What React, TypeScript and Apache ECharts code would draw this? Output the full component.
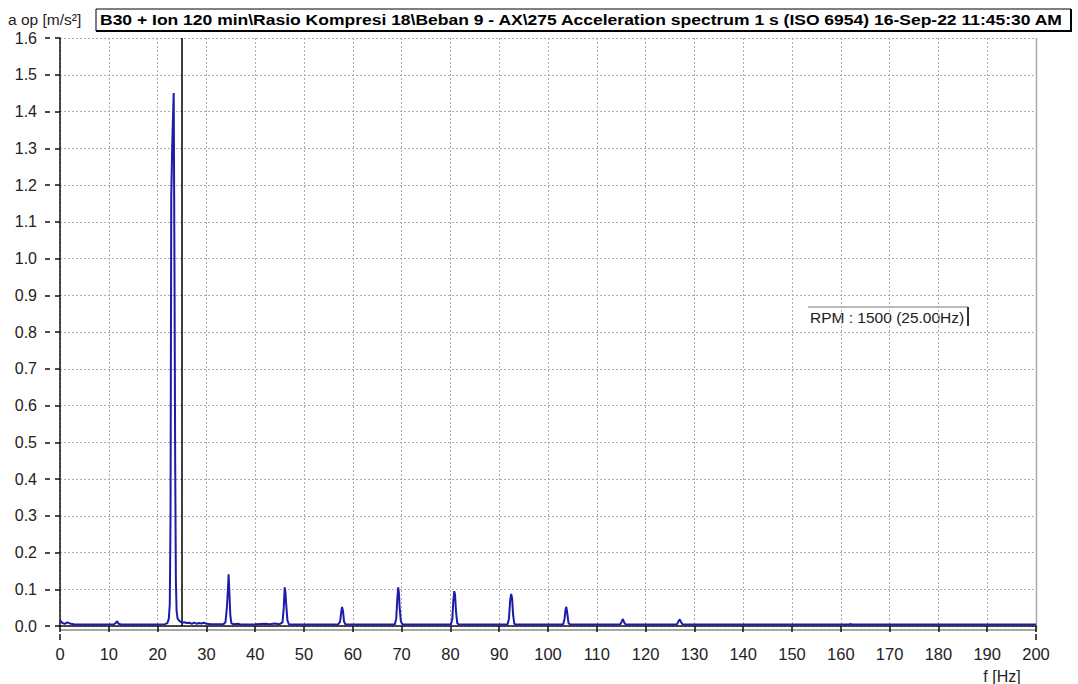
import React, { useEffect, useRef } from "react";
import * as echarts from "echarts";

// Frequency (Hz) and acceleration amplitude (m/s²)
const freqHz: number[] = [
  0, 0.5, 1.0, 1.5, 2.0, 3.0, 5, 8, 11, 11.4, 11.7, 12.0, 12.5, 16, 20, 21.5,
  22.0, 22.3, 22.5, 22.65, 22.8, 23.0, 23.3, 23.45, 23.6, 23.75, 23.9, 24.1, 24.5,
  25.0, 25.5, 26.0, 26.5, 27.0, 27.5, 28.0, 28.5, 29.0, 29.5, 30.0, 31, 32, 33.5,
  33.9, 34.2, 34.4, 34.55, 34.7, 34.9, 35.1, 35.5, 36.5, 37, 40, 42, 43, 44, 45,
  45.6, 45.85, 46.05, 46.2, 46.35, 46.6, 46.9, 48, 57, 57.4, 57.6, 57.8, 58.0,
  58.2, 58.5, 68.6, 68.9, 69.1, 69.3, 69.45, 69.6, 69.85, 70.2, 80.1, 80.4, 80.6,
  80.8, 80.95, 81.15, 81.4, 81.7, 91.7, 92.0, 92.25, 92.45, 92.65, 92.85, 93.1,
  93.4, 103.1, 103.4, 103.6, 103.75, 103.95, 104.2, 104.5, 114.8, 115.1, 115.35,
  115.6, 115.9, 126.4, 126.7, 127.0, 127.3, 127.6, 161.8, 162.0, 162.2, 200,
];
const accel: number[] = [
  0.016, 0.008, 0.006, 0.01, 0.007, 0.004, 0.004, 0.004, 0.004, 0.008, 0.013, 0.006, 0.004, 0.004, 0.004, 0.005,
  0.008, 0.02, 0.06, 0.3, 1.17, 1.31, 1.45, 1.0, 0.45, 0.12, 0.04, 0.02, 0.013,
  0.009, 0.01, 0.008, 0.009, 0.006, 0.009, 0.006, 0.008, 0.007, 0.009, 0.006, 0.005, 0.005, 0.005,
  0.01, 0.05, 0.095, 0.141, 0.095, 0.03, 0.008, 0.005, 0.006, 0.004, 0.005, 0.006, 0.005, 0.007, 0.005,
  0.01, 0.05, 0.105, 0.09, 0.06, 0.015, 0.005, 0.004, 0.004, 0.012, 0.035, 0.052, 0.04,
  0.012, 0.004, 0.004, 0.02, 0.07, 0.105, 0.09, 0.05, 0.012, 0.004, 0.004, 0.02, 0.07,
  0.095, 0.085, 0.04, 0.008, 0.004, 0.004, 0.02, 0.07, 0.087, 0.075, 0.03, 0.006,
  0.004, 0.004, 0.02, 0.045, 0.052, 0.035, 0.008, 0.004, 0.004, 0.012, 0.019,
  0.01, 0.004, 0.004, 0.012, 0.018, 0.01, 0.004, 0.004, 0.006, 0.004, 0.004,
];
const cursorHz = 25;
const yTickLabels: string[] = ["0.0","0.1","0.2","0.3","0.4","0.5","0.6","0.7","0.8","0.9","1.0","1.1","1.2","1.3","1.4","1.5","1.6"];

const titleText =
  "B30 + Ion 120 min\\Rasio Kompresi 18\\Beban 9 - AX\\275 Acceleration spectrum 1 s (ISO 6954) 16-Sep-22 11:45:30 AM";
const yName = "a op [m/s²]";
const xName = "f [Hz]";
const rpmText = "RPM : 1500 (25.00Hz)";

const FONT = "'Liberation Sans', Arial, sans-serif";

export default function App() {
  const ref = useRef<HTMLDivElement>(null);
  useEffect(() => {
    document.body.style.margin = "0";
    const chart = echarts.init(ref.current!, undefined, { renderer: "svg" });
    const data = freqHz.map((f, i) => [f, accel[i]]);
    const gridDash = { color: "#ababab", width: 1, type: [2, 2] as number[] };
    chart.setOption({
      animation: false,
      backgroundColor: "#ffffff",
      textStyle: { fontFamily: FONT },
      grid: { left: 60, right: 42, top: 38, bottom: 58, containLabel: false },
      xAxis: {
        type: "value",
        min: 0,
        max: 200,
        interval: 10,
        position: "bottom",
        offset: 14,
        axisLine: { show: true, lineStyle: { color: "#111", width: 1.5 } },
        axisTick: { show: true, length: 6, lineStyle: { color: "#111", width: 1.5 } },
        axisLabel: { fontSize: 16.5, color: "#222", margin: 5, fontFamily: FONT },
        splitLine: { show: true, lineStyle: gridDash },
      },
      yAxis: [
        {
          type: "value",
          min: 0,
          max: 1.6,
          interval: 0.1,
          offset: 15,
          axisLine: { show: true, lineStyle: { color: "#111", width: 1.5 } },
          axisTick: { show: true, length: 5, lineStyle: { color: "#111", width: 1.5 } },
          axisLabel: {
            fontSize: 16,
            color: "#222",
            margin: 8,
            fontFamily: FONT,
            formatter: (v: number) => yTickLabels[Math.round(v * 10)] ?? v.toFixed(1),
          },
          splitLine: { show: true, lineStyle: gridDash },
        },
        {
          type: "value",
          min: 0,
          max: 1.6,
          interval: 0.1,
          offset: 15,
          position: "left",
          axisLine: { show: false },
          axisTick: { show: true, inside: true, length: 5, lineStyle: { color: "#111", width: 1.5 } },
          axisLabel: { show: false },
          splitLine: { show: false },
        },
      ],
      series: [
        {
          type: "line",
          data,
          showSymbol: false,
          symbol: "none",
          lineStyle: { color: "#1c1ca8", width: 2 },
          z: 5,
          markLine: {
            silent: true,
            symbol: "none",
            label: { show: false },
            lineStyle: { color: "#000", width: 1.5, type: "solid" },
            data: [{ xAxis: cursorHz }],
          },
        },
      ],
      graphic: [
        { type: "text", x: 8, y: 19, style: { text: yName, font: `15.5px ${FONT}`, fill: "#222", verticalAlign: "middle" } },
        { type: "rect", shape: { x: 96, y: 9, width: 975, height: 22 }, style: { fill: "#fff", stroke: "#000", lineWidth: 1 } },
        {
          type: "text",
          x: 100,
          y: 20,
          scaleX: 1.13,
          style: { text: titleText, font: `bold 15.5px ${FONT}`, fill: "#000", verticalAlign: "middle" },
        },
        { type: "line", shape: { x1: 1071, y1: 9, x2: 1071, y2: 32 }, style: { stroke: "#000", lineWidth: 2 } },
        { type: "line", shape: { x1: 96, y1: 31, x2: 1072, y2: 31 }, style: { stroke: "#000", lineWidth: 2 } },
        // plot frame (bottom / right)
        { type: "line", shape: { x1: 60, y1: 630, x2: 1037, y2: 630 }, style: { stroke: "#a8a8a8", lineWidth: 2 } },
        { type: "line", shape: { x1: 1036.5, y1: 38, x2: 1036.5, y2: 630 }, style: { stroke: "#a8a8a8", lineWidth: 1.5 } },
        // x axis end up-ticks
        { type: "line", shape: { x1: 60, y1: 634, x2: 60, y2: 640 }, style: { stroke: "#111", lineWidth: 1.5 } },
        { type: "line", shape: { x1: 1036, y1: 634, x2: 1036, y2: 640 }, style: { stroke: "#111", lineWidth: 1.5 } },
        // RPM annotation
        { type: "line", shape: { x1: 808, y1: 307, x2: 968, y2: 307 }, style: { stroke: "#777", lineWidth: 1 } },
        { type: "line", shape: { x1: 968, y1: 307, x2: 968, y2: 326 }, style: { stroke: "#333", lineWidth: 2 } },
        {
          type: "text",
          x: 810,
          y: 317,
          style: { text: rpmText, font: `15.5px ${FONT}`, fill: "#222", verticalAlign: "middle" },
        },
        {
          type: "text",
          x: 1002,
          y: 676,
          style: { text: xName, font: `16px ${FONT}`, fill: "#222", align: "center", verticalAlign: "middle" },
        },
      ],
    });
    return () => chart.dispose();
  }, []);
  return <div ref={ref} style={{ width: 1078, height: 684 }} />;
}
